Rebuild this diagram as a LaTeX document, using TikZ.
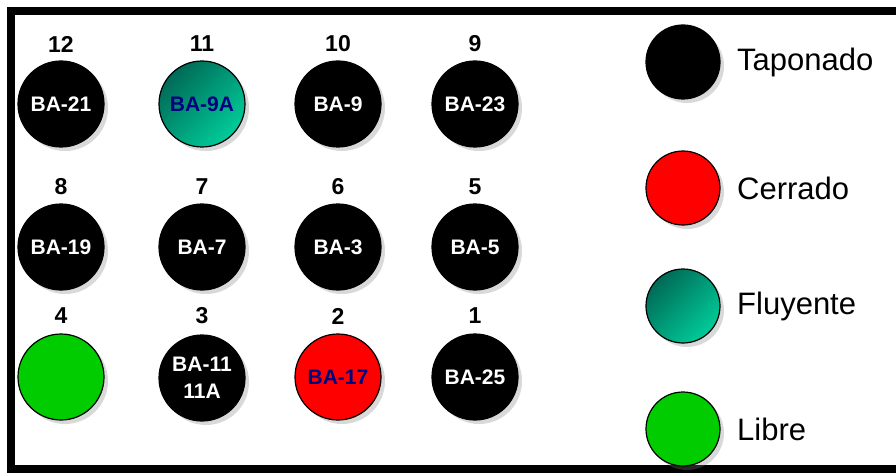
\documentclass[tikz,border=0pt]{standalone}
\usepackage{fontspec}
\setmainfont{Liberation Sans}
\usetikzlibrary{shadows}
\definecolor{navy}{HTML}{000080}
\definecolor{cerrado}{HTML}{FF0000}
\definecolor{libre}{HTML}{00CC00}
\definecolor{fluyoscuro}{HTML}{006A57}
\definecolor{fluyclaro}{HTML}{00CC99}
\tikzset{
  sombra/.style={drop shadow={shadow xshift=4pt,shadow yshift=-4pt,opacity=0.3}},
  pozo/.style={circle,draw=black,line width=1.2pt,minimum size=86pt,inner sep=0pt,
    fill=black,text=white,align=center,font=\fontsize{21}{23}\selectfont\bfseries,sombra},
  taponado/.style={pozo},
  cerrado/.style={pozo,fill=cerrado,text=navy},
  fluyente/.style={pozo,left color=fluyoscuro,right color=fluyclaro,shading angle=45,text=navy},
  libre/.style={pozo,fill=libre},
  numero/.style={font=\fontsize{23}{25}\selectfont\bfseries},
  muestra/.style={circle,draw=black,line width=1.2pt,minimum size=74pt,inner sep=0pt,sombra},
  leyenda/.style={anchor=west,inner sep=0pt,font=\fontsize{31}{33}\selectfont},
}

\begin{document}
\begin{tikzpicture}[x=1pt,y=-1pt]
  \useasboundingbox (0,0) rectangle (896,473);
  \draw[line width=8pt] (11,11) rectangle (910,469);
  % fila 1
  \node[numero] (n12) at (61,44) {12};
  \node[taponado] (ba21) at (61,104) {BA-21};
  \node[numero] (n11) at (202,44) {11};
  \node[fluyente] (ba9a) at (202,104) {BA-9A};
  \node[numero] (n10) at (338,44) {10};
  \node[taponado] (ba9) at (338,104) {BA-9};
  \node[numero] (n9) at (475,44) {9};
  \node[taponado] (ba23) at (475,104) {BA-23};
  % fila 2
  \node[numero] (n8) at (61,187) {8};
  \node[taponado] (ba19) at (61,247) {BA-19};
  \node[numero] (n7) at (202,187) {7};
  \node[taponado] (ba7) at (202,247) {BA-7};
  \node[numero] (n6) at (338,187) {6};
  \node[taponado] (ba3) at (338,247) {BA-3};
  \node[numero] (n5) at (475,187) {5};
  \node[taponado] (ba5) at (475,247) {BA-5};
  % fila 3
  \node[numero] (n4) at (61,316) {4};
  \node[libre] (libre4) at (61,377) {};
  \node[numero] (n3) at (202,316) {3};
  \node[taponado] (ba11) at (202,378) {BA-11\\[4pt]11A};
  \node[numero] (n2) at (338,316) {2};
  \node[cerrado] (ba17) at (338,377) {BA-17};
  \node[numero] (n1) at (475,316) {1};
  \node[taponado] (ba25) at (475,377) {BA-25};
  % leyenda
  \node[muestra,fill=black] (mtap) at (683,62) {};
  \node[leyenda] (ltap) at (737,62) {Taponado};
  \node[muestra,fill=cerrado] (mcer) at (683,188) {};
  \node[leyenda] (lcer) at (737,188) {Cerrado};
  \node[muestra,left color=fluyoscuro,right color=fluyclaro,shading angle=45] (mflu) at (683,306) {};
  \node[leyenda] (lflu) at (737,306) {Fluyente};
  \node[muestra,fill=libre] (mlib) at (683,429) {};
  \node[leyenda] (llib) at (737,429) {Libre};
\end{tikzpicture}
\end{document}
